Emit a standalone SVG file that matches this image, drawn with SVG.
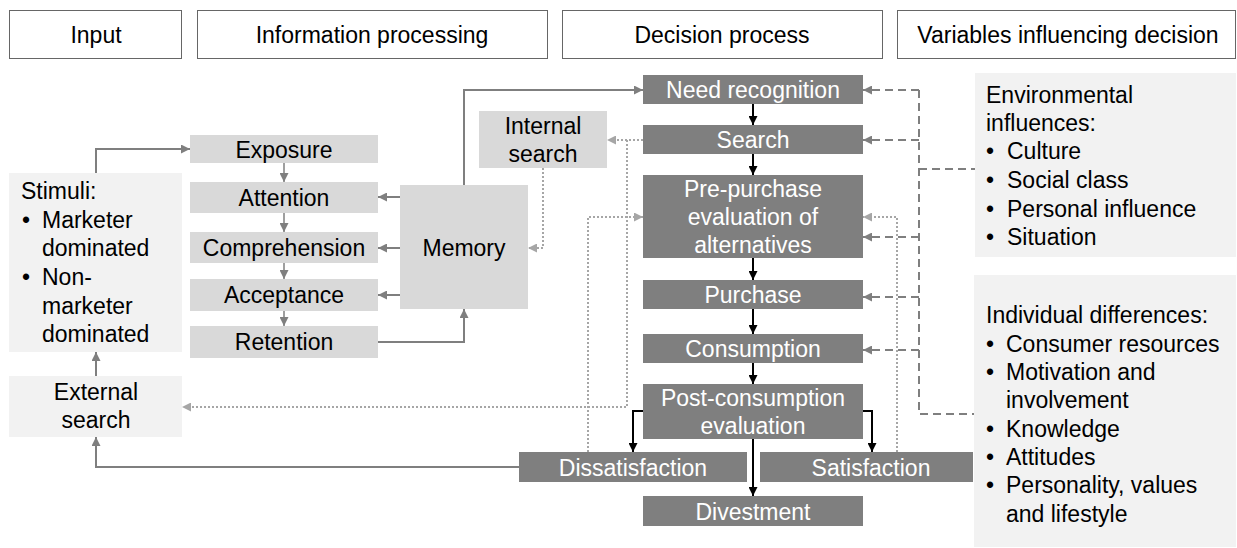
<svg xmlns="http://www.w3.org/2000/svg" width="1237" height="548" viewBox="0 0 1237 548">
<style>
text{font-family:"Liberation Sans",Arial,sans-serif;font-size:23px;fill:#000}
.hdr{fill:#fff;stroke:#666;stroke-width:1}
.lt{fill:#f2f2f2}
.md{fill:#d9d9d9}
.dk{fill:#7f7f7f}
.w{fill:#fff}
.c{text-anchor:middle}
.gs{fill:none;stroke:#7f7f7f;stroke-width:2}
.gsm{fill:none;stroke:#7f7f7f;stroke-width:1.5}
.dot{fill:none;stroke:#a6a6a6;stroke-width:2;stroke-dasharray:2 2}
.dash{fill:none;stroke:#7f7f7f;stroke-width:2;stroke-dasharray:8 5}
.blk{fill:none;stroke:#000;stroke-width:2}
</style>
<defs>
<marker id="ag" viewBox="0 0 10 10" refX="10" refY="5" markerWidth="9" markerHeight="9" markerUnits="userSpaceOnUse" orient="auto"><path d="M0,0 L10,5 L0,10 z" fill="#7f7f7f"/></marker>
<marker id="al" viewBox="0 0 10 10" refX="10" refY="5" markerWidth="9" markerHeight="9" markerUnits="userSpaceOnUse" orient="auto"><path d="M0,0 L10,5 L0,10 z" fill="#a6a6a6"/></marker>
<marker id="ab" viewBox="0 0 10 10" refX="10" refY="5" markerWidth="9" markerHeight="9" markerUnits="userSpaceOnUse" orient="auto"><path d="M0,0 L10,5 L0,10 z" fill="#000"/></marker>
</defs>

<g id="headers">
<g id="h-input"><rect class="hdr" x="9.5" y="10.5" width="172" height="48"/><text class="c" x="96" y="43">Input</text></g>
<g id="h-info"><rect class="hdr" x="197.5" y="10.5" width="350" height="48"/><text class="c" x="372" y="43">Information processing</text></g>
<g id="h-decision"><rect class="hdr" x="562.5" y="10.5" width="320" height="48"/><text class="c" x="722" y="43">Decision process</text></g>
<g id="h-vars"><rect class="hdr" x="897.5" y="10.5" width="338" height="48"/><text class="c" x="1068" y="43">Variables influencing decision</text></g>
</g>

<g id="connectors">
<path class="gs" d="M96,173 V149 H190" marker-end="url(#ag)"/>
<path class="gs" d="M96,376 V352" marker-end="url(#ag)"/>
<path class="gs" d="M519,467 H96 V437" marker-end="url(#ag)"/>
<path class="gs" d="M400,197 H378" marker-end="url(#ag)"/>
<path class="gs" d="M400,248 H378" marker-end="url(#ag)"/>
<path class="gs" d="M400,295 H378" marker-end="url(#ag)"/>
<path class="gs" d="M378,342 H464 V309" marker-end="url(#ag)"/>
<path class="gs" d="M464,185 V90 H643" marker-end="url(#ag)"/>
<path class="gsm" d="M284,163 V182" marker-end="url(#ag)"/>
<path class="gsm" d="M284,213 V232" marker-end="url(#ag)"/>
<path class="gsm" d="M284,263 V279" marker-end="url(#ag)"/>
<path class="gsm" d="M284,311 V326" marker-end="url(#ag)"/>

<path class="dot" d="M643,140 H607" marker-end="url(#al)"/>
<path class="dot" d="M543,168 V248 H528" marker-end="url(#al)"/>
<path class="dot" d="M627,140 V407 H182" marker-end="url(#al)"/>
<path class="dot" d="M588,452 V217 H643" marker-end="url(#al)"/>
<path class="dot" d="M897,452 V217 H863" marker-end="url(#al)"/>

<path class="dash" d="M919,90 V414 H975"/>
<path class="dash" d="M919,169 H975"/>
<path class="dash" d="M919,90 H863" marker-end="url(#ag)"/>
<path class="dash" d="M919,140 H863" marker-end="url(#ag)"/>
<path class="dash" d="M919,237 H863" marker-end="url(#ag)"/>
<path class="dash" d="M919,297 H863" marker-end="url(#ag)"/>
<path class="dash" d="M919,350 H863" marker-end="url(#ag)"/>

<path class="blk" d="M753,104 V125" marker-end="url(#ab)"/>
<path class="blk" d="M753,154 V175" marker-end="url(#ab)"/>
<path class="blk" d="M753,258 V280" marker-end="url(#ab)"/>
<path class="blk" d="M753,309 V334" marker-end="url(#ab)"/>
<path class="blk" d="M753,363 V384" marker-end="url(#ab)"/>
<path class="blk" d="M753,439 V496" marker-end="url(#ab)"/>
<path class="blk" d="M643,411 H633 V452" marker-end="url(#ab)"/>
<path class="blk" d="M863,411 H872 V452" marker-end="url(#ab)"/>
</g>

<g id="stimuli"><rect class="lt" x="9" y="173" width="173" height="179"/>
<text x="21" y="199">Stimuli:</text>
<text x="22" y="228">•</text><text x="42" y="228">Marketer</text>
<text x="42" y="256">dominated</text>
<text x="22" y="285">•</text><text x="42" y="285">Non-</text>
<text x="42" y="314">marketer</text>
<text x="42" y="342">dominated</text></g>
<g id="external-search"><rect class="lt" x="9" y="376" width="173" height="61"/>
<text class="c" x="96" y="400">External</text><text class="c" x="96" y="428">search</text></g>

<g id="exposure"><rect class="md" x="190" y="135" width="188" height="28"/><text class="c" x="284" y="158">Exposure</text></g>
<g id="attention"><rect class="md" x="190" y="182" width="188" height="31"/><text class="c" x="284" y="206">Attention</text></g>
<g id="comprehension"><rect class="md" x="190" y="232" width="188" height="31"/><text class="c" x="284" y="256">Comprehension</text></g>
<g id="acceptance"><rect class="md" x="190" y="279" width="188" height="32"/><text class="c" x="284" y="303">Acceptance</text></g>
<g id="retention"><rect class="md" x="190" y="326" width="188" height="32"/><text class="c" x="284" y="350">Retention</text></g>
<g id="memory"><rect class="md" x="400" y="185" width="128" height="124"/><text class="c" x="464" y="256">Memory</text></g>
<g id="internal-search"><rect class="md" x="479" y="111" width="128" height="57"/><text class="c" x="543" y="134">Internal</text><text class="c" x="543" y="162">search</text></g>

<g id="need-recognition"><rect class="dk" x="643" y="75" width="220" height="29"/><text class="c w" x="753" y="98">Need recognition</text></g>
<g id="search"><rect class="dk" x="643" y="125" width="220" height="29"/><text class="c w" x="753" y="148">Search</text></g>
<g id="pre-purchase"><rect class="dk" x="643" y="175" width="220" height="83"/><text class="c w" x="753" y="197">Pre-purchase</text><text class="c w" x="753" y="225">evaluation of</text><text class="c w" x="753" y="253">alternatives</text></g>
<g id="purchase"><rect class="dk" x="643" y="280" width="220" height="29"/><text class="c w" x="753" y="303">Purchase</text></g>
<g id="consumption"><rect class="dk" x="643" y="334" width="220" height="29"/><text class="c w" x="753" y="357">Consumption</text></g>
<g id="post-consumption"><rect class="dk" x="643" y="384" width="220" height="55"/><text class="c w" x="753" y="406">Post-consumption</text><text class="c w" x="753" y="434">evaluation</text></g>
<g id="dissatisfaction"><rect class="dk" x="519" y="452" width="228" height="30"/><text class="c w" x="633" y="476">Dissatisfaction</text></g>
<g id="satisfaction"><rect class="dk" x="760" y="452" width="213" height="30"/><text class="c w" x="871" y="476">Satisfaction</text></g>
<g id="divestment"><rect class="dk" x="643" y="496" width="220" height="30"/><text class="c w" x="753" y="520">Divestment</text></g>

<g id="environmental"><rect class="lt" x="975" y="73" width="261" height="184"/>
<text x="986" y="103">Environmental</text>
<text x="986" y="131">influences:</text>
<text x="986" y="159">•</text><text x="1007" y="159">Culture</text>
<text x="986" y="188">•</text><text x="1007" y="188">Social class</text>
<text x="986" y="217">•</text><text x="1007" y="217">Personal influence</text>
<text x="986" y="245">•</text><text x="1007" y="245">Situation</text></g>
<g id="individual"><rect class="lt" x="974" y="275" width="262" height="272"/>
<text x="986" y="323">Individual differences:</text>
<text x="986" y="352">•</text><text x="1006" y="352">Consumer resources</text>
<text x="986" y="380">•</text><text x="1006" y="380">Motivation and</text>
<text x="1006" y="408">involvement</text>
<text x="986" y="437">•</text><text x="1006" y="437">Knowledge</text>
<text x="986" y="465">•</text><text x="1006" y="465">Attitudes</text>
<text x="986" y="493">•</text><text x="1006" y="493">Personality, values</text>
<text x="1006" y="522">and lifestyle</text></g>
</svg>
